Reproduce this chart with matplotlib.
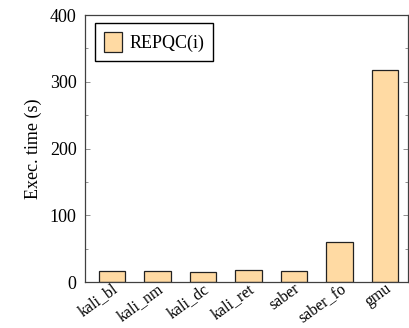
import numpy as np
import matplotlib.pyplot as plt
from matplotlib.ticker import MultipleLocator

# ---------- data ----------
categories = ['kali_bl', 'kali_nm', 'kali_dc', 'kali_ret', 'saber', 'saber_fo', 'gmu']
exec_time = [17, 17, 15, 18, 16, 60, 317]
series_label = 'REPQC(i)'

# ---------- style ----------
plt.rcParams['font.family'] = ['Liberation Serif', 'DejaVu Serif']
plt.rcParams['font.size'] = 13
bar_color = '#FFDAA3'
spine_color = '#404040'

fig = plt.figure(figsize=(4.09, 3.28), dpi=100)
ax = fig.add_axes([0.208, 0.140, 0.789, 0.814])

x = np.arange(len(categories))
ax.bar(x, exec_time, width=0.58, color=bar_color, edgecolor='#222222',
       linewidth=0.9, label=series_label, zorder=2)

# --- x axis ---
ax.set_xlim(-0.59, 6.5)
ax.set_xticks(x)
ax.set_xticklabels(categories, rotation=36, ha='right', rotation_mode='anchor',
                   fontsize=11.5)
ax.tick_params(axis='x', length=0, pad=-1)

# --- y axis ---
ax.set_ylim(0, 400)
ax.yaxis.set_major_locator(MultipleLocator(100))
ax.yaxis.set_minor_locator(MultipleLocator(50))
ax.tick_params(axis='y', which='both', direction='in', right=True,
               color='#808080', width=0.6, pad=6)
ax.tick_params(axis='y', which='major', length=3.5)
ax.tick_params(axis='y', which='minor', length=2)
ax.set_ylabel('Exec. time (s)', labelpad=6)

for sp in ax.spines.values():
    sp.set_color(spine_color)
    sp.set_linewidth(0.9)

ax.legend(loc='upper left', bbox_to_anchor=(0.03, 0.97), borderaxespad=0,
          fancybox=False, edgecolor='black', framealpha=1,
          handlelength=1.0, handleheight=1.3, handletextpad=0.4,
          borderpad=0.5)

fig.savefig('out.png', dpi=100, facecolor='white')
